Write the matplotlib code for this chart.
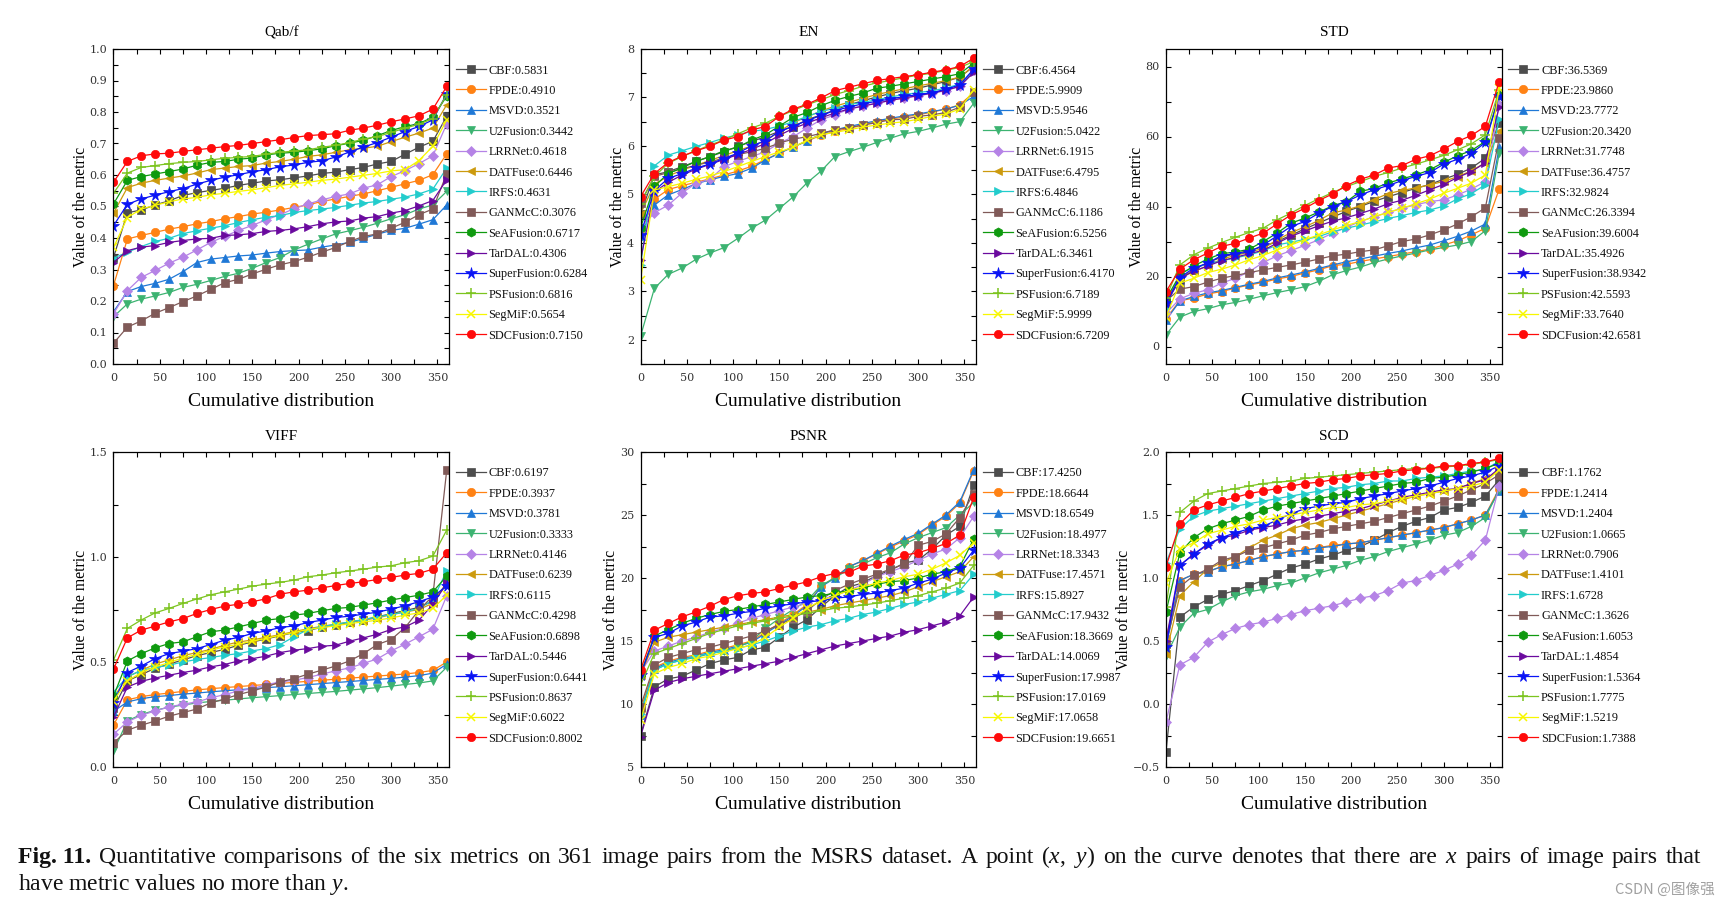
import matplotlib
matplotlib.use('Agg')
import matplotlib.pyplot as plt
from matplotlib.lines import Line2D
from matplotlib.ticker import MultipleLocator, FuncFormatter

plt.rcParams['font.family'] = ['Liberation Serif', 'DejaVu Serif']
plt.rcParams['mathtext.fontset'] = 'custom'
plt.rcParams['mathtext.rm'] = 'Liberation Serif'
plt.rcParams['mathtext.it'] = 'Liberation Serif:italic'
plt.rcParams['mathtext.bf'] = 'Liberation Serif:bold'

# ---------------- data ----------------
METHODS = ['CBF', 'FPDE', 'MSVD', 'U2Fusion', 'LRRNet', 'DATFuse', 'IRFS', 'GANMcC',
           'SeAFusion', 'TarDAL', 'SuperFusion', 'PSFusion', 'SegMiF', 'SDCFusion']
COLORS = ['#4d4d4d', '#ff8214', '#1f78d6', '#3cb371', '#b583e6', '#cc9a0e', '#22cccc', '#805a58',
          '#0f9a0f', '#6a0a9e', '#0a14f5', '#7cc41f', '#f7f700', '#ff0a0a']
MARKERS = ['s', 'o', '^', 'v', 'D', '<', '>', 's', 'h', '>', '*', '+', 'x', 'o']
X = [0, 15, 30, 45, 60, 75, 90, 105, 120, 135, 150, 165, 180, 195, 210, 225, 240, 255,
     270, 285, 300, 315, 330, 345, 360]

qabf_vals = [
    [0.338,0.480,0.489,0.505,0.518,0.535,0.544,0.551,0.558,0.567,0.574,0.581,0.585,0.591,0.597,0.605,0.609,0.617,0.624,0.635,0.643,0.666,0.688,0.707,0.786],
    [0.249,0.397,0.408,0.418,0.428,0.436,0.445,0.452,0.461,0.468,0.476,0.482,0.489,0.497,0.505,0.516,0.524,0.532,0.540,0.550,0.561,0.572,0.583,0.601,0.667],
    [0.166,0.230,0.246,0.256,0.269,0.293,0.322,0.333,0.338,0.343,0.346,0.352,0.357,0.360,0.362,0.371,0.378,0.386,0.399,0.412,0.424,0.431,0.444,0.458,0.505],
    [0.150,0.191,0.206,0.216,0.227,0.243,0.253,0.265,0.278,0.288,0.304,0.322,0.338,0.362,0.380,0.397,0.413,0.423,0.434,0.447,0.461,0.474,0.492,0.505,0.548],
    [0.159,0.233,0.275,0.297,0.320,0.339,0.362,0.386,0.405,0.424,0.440,0.458,0.474,0.493,0.508,0.521,0.532,0.540,0.558,0.569,0.595,0.614,0.636,0.661,0.762],
    [0.479,0.560,0.574,0.583,0.590,0.597,0.606,0.617,0.622,0.627,0.630,0.638,0.643,0.650,0.659,0.664,0.672,0.680,0.685,0.691,0.706,0.720,0.733,0.749,0.823],
    [0.336,0.355,0.373,0.389,0.399,0.414,0.423,0.431,0.439,0.449,0.458,0.466,0.471,0.481,0.487,0.492,0.497,0.504,0.511,0.516,0.523,0.530,0.540,0.555,0.622],
    [0.066,0.117,0.137,0.161,0.179,0.198,0.216,0.237,0.258,0.269,0.286,0.301,0.315,0.325,0.339,0.355,0.370,0.389,0.405,0.413,0.431,0.450,0.474,0.492,0.604],
    [0.508,0.583,0.595,0.603,0.611,0.619,0.631,0.640,0.643,0.650,0.654,0.664,0.669,0.672,0.677,0.683,0.693,0.701,0.710,0.725,0.741,0.754,0.763,0.784,0.850],
    [0.322,0.360,0.371,0.376,0.386,0.392,0.397,0.399,0.408,0.410,0.414,0.421,0.424,0.429,0.436,0.445,0.451,0.454,0.463,0.468,0.479,0.487,0.502,0.519,0.585],
    [0.439,0.507,0.524,0.536,0.547,0.557,0.571,0.583,0.593,0.601,0.610,0.617,0.626,0.632,0.640,0.645,0.657,0.673,0.689,0.703,0.720,0.738,0.754,0.775,0.858],
    [0.542,0.606,0.624,0.630,0.636,0.640,0.643,0.648,0.653,0.656,0.659,0.666,0.672,0.676,0.680,0.688,0.694,0.703,0.714,0.722,0.735,0.749,0.761,0.779,0.855],
    [0.370,0.465,0.492,0.504,0.515,0.524,0.529,0.537,0.542,0.548,0.553,0.560,0.567,0.572,0.577,0.583,0.587,0.593,0.599,0.605,0.613,0.617,0.646,0.691,0.775],
    [0.577,0.643,0.661,0.667,0.669,0.675,0.680,0.685,0.690,0.694,0.700,0.706,0.712,0.719,0.725,0.728,0.731,0.742,0.749,0.758,0.769,0.778,0.788,0.809,0.881],
]
qabf_means = [0.5831, 0.4910, 0.3521, 0.3442, 0.4618, 0.6446, 0.4631, 0.3076, 0.6717, 0.4306, 0.6284, 0.6816, 0.5654, 0.7150]

en_vals = [
    [4.59,5.40,5.47,5.57,5.68,5.78,5.88,5.99,6.09,6.19,6.30,6.40,6.54,6.64,6.74,6.85,6.93,7.01,7.08,7.14,7.19,7.26,7.33,7.42,7.64],
    [4.20,4.90,5.10,5.18,5.25,5.32,5.40,5.48,5.58,5.72,5.85,5.98,6.10,6.22,6.30,6.36,6.43,6.50,6.55,6.60,6.64,6.70,6.76,6.85,7.10],
    [4.15,4.78,4.99,5.10,5.22,5.30,5.37,5.43,5.54,5.71,5.85,5.98,6.10,6.25,6.33,6.40,6.46,6.52,6.57,6.62,6.66,6.71,6.76,6.84,7.02],
    [2.07,3.06,3.35,3.48,3.66,3.79,3.90,4.09,4.30,4.47,4.71,4.95,5.24,5.48,5.78,5.88,5.97,6.07,6.16,6.25,6.30,6.37,6.45,6.50,6.88],
    [4.30,4.62,4.78,5.03,5.23,5.31,5.57,5.68,5.78,5.88,6.06,6.19,6.37,6.54,6.64,6.76,6.83,6.88,6.94,6.99,7.03,7.09,7.14,7.23,7.57],
    [4.60,5.20,5.38,5.50,5.60,5.70,5.80,5.90,6.00,6.10,6.30,6.48,6.60,6.72,6.82,6.90,6.98,7.06,7.12,7.18,7.24,7.29,7.35,7.42,7.65],
    [3.54,5.59,5.81,5.90,5.99,6.07,6.16,6.23,6.30,6.34,6.41,6.50,6.61,6.71,6.78,6.85,6.90,6.95,7.01,7.06,7.10,7.14,7.19,7.28,7.54],
    [4.83,5.37,5.45,5.53,5.60,5.67,5.75,5.82,5.88,5.95,6.06,6.14,6.19,6.26,6.33,6.38,6.43,6.48,6.54,6.55,6.61,6.64,6.69,6.80,7.12],
    [4.31,5.17,5.43,5.55,5.68,5.78,5.90,5.97,6.12,6.23,6.41,6.59,6.69,6.83,6.94,7.02,7.09,7.19,7.23,7.28,7.33,7.38,7.43,7.49,7.71],
    [3.64,5.05,5.25,5.40,5.52,5.62,5.72,5.82,5.93,6.05,6.22,6.36,6.47,6.58,6.68,6.76,6.82,6.88,6.94,6.99,7.04,7.09,7.15,7.23,7.52],
    [4.17,5.08,5.33,5.43,5.54,5.63,5.74,5.85,6.00,6.11,6.30,6.41,6.52,6.63,6.73,6.80,6.87,6.92,6.97,7.02,7.06,7.10,7.17,7.26,7.59],
    [4.81,5.37,5.64,5.78,5.90,6.02,6.12,6.25,6.37,6.47,6.61,6.73,6.85,6.95,7.06,7.14,7.23,7.30,7.35,7.41,7.46,7.50,7.56,7.62,7.74],
    [3.23,5.09,5.16,5.23,5.31,5.38,5.47,5.57,5.68,5.78,5.88,5.97,6.12,6.23,6.28,6.33,6.39,6.43,6.47,6.50,6.55,6.61,6.66,6.76,7.16],
    [4.95,5.43,5.66,5.79,5.90,5.99,6.12,6.19,6.33,6.40,6.61,6.76,6.86,6.99,7.14,7.21,7.28,7.35,7.39,7.43,7.47,7.52,7.57,7.64,7.81],
]
en_means = [6.4564, 5.9909, 5.9546, 5.0422, 6.1915, 6.4795, 6.4846, 6.1186, 6.5256, 6.3461, 6.4170, 6.7189, 5.9999, 6.7209]

std_vals = [
    [12.5,19.0,22.0,24.0,25.5,26.5,27.5,28.5,30.0,31.8,33.6,35.3,37.0,38.6,40.0,41.5,42.8,44.0,45.2,46.3,47.8,49.2,51.0,53.8,64.0],
    [8.0,13.1,13.8,15.0,15.7,16.7,17.6,18.3,19.3,20.0,21.0,21.9,23.1,23.5,24.3,25.0,25.7,26.4,27.1,27.8,29.0,30.2,31.9,33.8,45.0],
    [7.5,13.0,14.3,15.3,16.0,16.9,17.8,18.6,19.6,20.4,21.3,22.3,23.3,24.2,25.0,25.8,26.6,27.3,28.2,29.0,30.2,31.5,33.0,35.0,57.0],
    [3.3,8.4,10.0,10.8,11.9,12.6,13.5,14.5,15.4,16.2,17.1,18.6,20.5,21.7,22.7,24.0,25.0,25.9,26.7,27.6,28.3,29.0,30.0,33.1,55.2],
    [9.5,13.6,15.2,16.2,18.1,19.5,21.4,24.0,25.9,27.4,28.9,30.5,32.4,34.1,35.7,37.1,38.3,39.5,40.5,41.4,41.9,43.3,45.0,47.1,69.0],
    [13.0,20.0,21.5,23.0,25.0,26.0,27.0,28.0,30.5,32.5,34.2,36.0,38.2,39.0,40.2,42.0,43.7,44.6,45.3,46.2,47.2,48.5,50.2,52.5,61.5],
    [11.0,21.0,22.5,23.5,24.5,25.3,26.2,27.3,29.0,29.8,30.6,31.4,32.8,33.8,34.7,35.6,36.6,37.4,38.3,39.0,40.1,42.2,43.7,46.2,65.0],
    [13.0,16.4,17.1,18.4,19.5,20.3,21.1,21.9,22.6,23.3,24.1,25.0,25.9,26.4,27.1,27.6,28.8,30.0,30.7,31.9,33.3,35.0,37.1,39.6,59.5],
    [13.5,20.5,23.0,25.0,26.5,27.0,27.8,30.0,32.4,35.2,36.7,38.4,40.2,41.4,44.3,45.2,46.7,47.9,49.0,50.5,52.6,54.5,56.0,58.6,71.9],
    [12.0,19.5,21.5,23.0,24.5,25.5,26.5,27.5,29.5,31.5,33.0,34.5,35.8,36.8,38.0,39.3,40.8,41.8,43.2,44.8,46.3,48.3,50.0,52.5,68.5],
    [12.5,19.7,22.4,23.8,26.0,26.5,27.0,29.0,31.6,34.3,35.7,38.1,40.0,41.4,43.3,44.8,46.0,47.4,48.6,49.7,52.1,53.5,55.2,58.3,71.6],
    [14.0,23.3,26.2,28.1,29.7,31.2,32.6,33.8,36.2,38.1,40.3,42.2,44.0,45.7,47.1,48.6,49.7,51.0,52.1,53.3,54.6,56.2,57.9,60.5,73.3],
    [8.5,18.1,19.5,21.1,22.1,23.3,24.8,26.0,27.6,29.0,30.5,31.9,33.3,34.6,35.7,37.1,38.3,39.5,40.8,42.1,43.8,45.2,46.7,49.0,73.8],
    [15.7,22.1,24.8,26.7,28.6,29.5,31.0,32.4,35.0,37.6,39.5,41.7,43.6,46.0,47.8,49.0,51.0,51.7,53.5,54.5,56.4,58.6,60.3,62.9,75.7],
]
std_means = [36.5369, 23.9860, 23.7772, 20.3420, 31.7748, 36.4757, 32.9824, 26.3394, 39.6004, 35.4926, 38.9342, 42.5593, 33.7640, 42.6581]

viff_vals = [
    [0.28,0.41,0.44,0.47,0.49,0.51,0.53,0.545,0.56,0.58,0.595,0.61,0.625,0.64,0.65,0.665,0.675,0.69,0.70,0.715,0.73,0.745,0.76,0.79,0.87],
    [0.20,0.32,0.335,0.345,0.352,0.36,0.367,0.373,0.378,0.383,0.388,0.393,0.398,0.403,0.408,0.413,0.418,0.423,0.428,0.433,0.438,0.443,0.45,0.46,0.50],
    [0.265,0.31,0.325,0.335,0.34,0.347,0.352,0.358,0.363,0.368,0.373,0.378,0.382,0.387,0.392,0.397,0.402,0.407,0.412,0.417,0.422,0.428,0.435,0.447,0.49],
    [0.075,0.22,0.25,0.27,0.285,0.295,0.305,0.312,0.318,0.324,0.33,0.335,0.34,0.345,0.35,0.355,0.36,0.366,0.372,0.378,0.385,0.393,0.40,0.41,0.475],
    [0.156,0.215,0.246,0.267,0.286,0.299,0.31,0.329,0.345,0.362,0.373,0.392,0.405,0.413,0.426,0.442,0.458,0.472,0.493,0.515,0.553,0.585,0.62,0.656,0.815],
    [0.33,0.43,0.46,0.49,0.51,0.53,0.545,0.56,0.58,0.595,0.605,0.618,0.63,0.645,0.658,0.67,0.68,0.69,0.70,0.71,0.725,0.738,0.75,0.78,0.88],
    [0.357,0.43,0.46,0.474,0.485,0.50,0.512,0.521,0.532,0.54,0.553,0.564,0.583,0.62,0.655,0.667,0.68,0.691,0.702,0.715,0.726,0.739,0.755,0.795,0.934],
    [0.114,0.175,0.199,0.219,0.242,0.259,0.276,0.305,0.324,0.345,0.362,0.381,0.405,0.421,0.442,0.461,0.481,0.505,0.540,0.583,0.607,0.664,0.747,0.814,1.414],
    [0.337,0.505,0.540,0.567,0.588,0.596,0.620,0.644,0.652,0.667,0.683,0.699,0.707,0.723,0.731,0.744,0.755,0.760,0.771,0.782,0.795,0.807,0.818,0.834,0.909],
    [0.238,0.381,0.408,0.424,0.437,0.45,0.461,0.477,0.488,0.505,0.516,0.528,0.545,0.556,0.564,0.575,0.58,0.599,0.615,0.632,0.655,0.667,0.699,0.775,0.874],
    [0.305,0.450,0.481,0.516,0.540,0.551,0.564,0.583,0.604,0.617,0.636,0.648,0.664,0.672,0.688,0.699,0.712,0.718,0.728,0.737,0.752,0.768,0.787,0.810,0.863],
    [0.51,0.66,0.70,0.734,0.755,0.779,0.80,0.82,0.834,0.847,0.861,0.871,0.879,0.89,0.906,0.914,0.925,0.933,0.942,0.952,0.958,0.973,0.982,1.004,1.128],
    [0.315,0.41,0.45,0.477,0.497,0.52,0.536,0.556,0.572,0.585,0.599,0.612,0.628,0.640,0.655,0.664,0.672,0.683,0.691,0.699,0.710,0.723,0.734,0.755,0.818],
    [0.466,0.615,0.652,0.671,0.691,0.707,0.731,0.750,0.766,0.775,0.787,0.801,0.823,0.834,0.842,0.853,0.864,0.874,0.882,0.893,0.903,0.914,0.922,0.942,1.020],
]
viff_means = [0.6197, 0.3937, 0.3781, 0.3333, 0.4146, 0.6239, 0.6115, 0.4298, 0.6898, 0.5446, 0.6441, 0.8637, 0.6022, 0.8002]

psnr_vals = [
    [7.5,11.36,12.0,12.2,12.7,13.2,13.5,13.7,14.3,14.5,15.3,16.1,16.7,17.7,18.6,19.3,19.6,20.2,20.6,21.2,21.4,22.3,23.4,24.1,27.4],
    [9.5,12.9,13.4,13.7,13.9,14.2,14.4,14.7,15.0,15.7,16.4,17.1,17.9,19.35,20.05,20.9,21.35,21.9,22.45,22.95,23.45,24.2,24.9,25.95,28.5],
    [9.1,12.8,13.3,13.6,13.8,14.1,14.3,14.6,14.9,15.6,16.3,17.0,17.8,19.3,20.0,20.9,21.37,21.95,22.53,23.06,23.54,24.28,25.0,26.05,28.6],
    [9.3,12.7,13.2,13.5,13.7,14.0,14.2,14.5,15.0,16.0,16.8,17.5,18.2,19.4,20.0,20.7,21.1,21.6,22.0,22.7,23.2,23.6,24.0,25.0,26.0],
    [12.5,14.2,14.6,15.0,15.3,15.7,16.0,16.4,16.8,17.1,17.4,17.7,18.0,18.3,18.6,19.0,19.5,20.1,20.5,20.9,21.4,21.9,22.3,23.2,24.9],
    [12.3,14.9,15.3,15.5,15.7,15.9,16.1,16.3,16.5,16.7,16.9,17.1,17.3,17.5,17.8,18.0,18.2,18.4,18.6,18.9,19.3,19.7,20.1,20.5,21.7],
    [9.2,12.7,13.2,13.5,13.8,14.0,14.2,14.4,14.7,15.0,15.4,15.8,16.1,16.3,16.6,16.8,17.1,17.3,17.6,17.9,18.1,18.4,18.7,19.0,20.3],
    [9.8,13.1,13.7,14.0,14.3,14.5,14.8,15.1,15.4,15.8,16.3,16.8,17.4,18.3,19.0,19.5,19.9,20.3,20.7,21.1,22.6,22.9,23.5,24.8,26.7],
    [12.4,15.4,15.9,16.4,16.8,17.1,17.35,17.5,17.7,17.9,18.1,18.3,18.5,18.6,18.8,19.0,19.2,19.5,19.7,19.8,20.0,20.3,20.5,20.9,23.1],
    [7.4,11.1,11.7,12.0,12.2,12.4,12.6,12.8,13.0,13.2,13.4,13.7,14.0,14.3,14.6,14.8,15.0,15.2,15.4,15.7,15.9,16.2,16.5,17.0,18.5],
    [12.3,15.3,15.6,16.2,16.5,16.9,17.0,17.2,17.35,17.6,17.8,17.95,18.1,18.2,18.4,18.5,18.7,18.8,19.0,19.2,19.6,19.9,20.4,20.8,22.2],
    [11.5,14.0,14.4,14.8,15.2,15.6,15.9,16.2,16.4,16.6,16.8,17.0,17.2,17.4,17.6,17.7,17.85,18.0,18.2,18.4,18.6,18.9,19.2,19.6,21.0],
    [8.7,12.4,12.9,13.2,13.6,13.8,14.1,14.4,14.7,15.3,16.1,16.8,17.6,18.2,18.6,19.0,19.3,19.6,19.8,20.1,20.3,20.7,21.2,21.8,22.8],
    [12.68,15.86,16.39,16.92,17.31,17.76,18.29,18.59,18.77,18.90,19.17,19.43,19.70,20.10,20.36,20.44,20.94,21.10,21.37,21.82,22.00,22.35,22.74,23.41,26.40],
]
psnr_means = [17.4250, 18.6644, 18.6549, 18.4977, 18.3343, 17.4571, 15.8927, 17.9432, 18.3669, 14.0069, 17.9987, 17.0169, 17.0658, 19.6651]

scd_vals = [
    [-0.38,0.69,0.77,0.83,0.87,0.90,0.94,0.98,1.03,1.08,1.11,1.15,1.18,1.22,1.25,1.30,1.36,1.41,1.45,1.48,1.54,1.56,1.60,1.65,1.78],
    [0.52,0.98,1.03,1.05,1.09,1.11,1.14,1.17,1.19,1.21,1.22,1.24,1.26,1.27,1.28,1.30,1.32,1.34,1.36,1.38,1.40,1.43,1.46,1.50,1.71],
    [0.45,0.98,1.03,1.05,1.09,1.11,1.14,1.17,1.19,1.21,1.22,1.24,1.25,1.27,1.28,1.30,1.32,1.34,1.36,1.38,1.40,1.43,1.46,1.50,1.69],
    [0.38,0.61,0.72,0.75,0.81,0.86,0.89,0.91,0.94,0.96,1.00,1.04,1.07,1.10,1.14,1.17,1.21,1.24,1.27,1.30,1.34,1.36,1.41,1.48,1.70],
    [-0.14,0.31,0.37,0.49,0.55,0.60,0.63,0.65,0.68,0.71,0.74,0.76,0.78,0.81,0.84,0.86,0.90,0.96,0.98,1.02,1.06,1.11,1.18,1.30,1.73],
    [0.40,0.86,0.97,1.07,1.12,1.17,1.24,1.30,1.34,1.39,1.42,1.44,1.47,1.50,1.53,1.56,1.59,1.62,1.65,1.67,1.69,1.71,1.75,1.79,1.85],
    [1.12,1.39,1.49,1.53,1.55,1.57,1.59,1.61,1.63,1.65,1.67,1.69,1.71,1.72,1.74,1.75,1.77,1.77,1.79,1.80,1.81,1.83,1.85,1.86,1.93],
    [0.48,0.93,1.02,1.07,1.14,1.17,1.22,1.24,1.27,1.30,1.34,1.36,1.39,1.41,1.43,1.45,1.48,1.51,1.54,1.57,1.61,1.65,1.70,1.75,1.82],
    [0.73,1.20,1.32,1.39,1.43,1.46,1.49,1.54,1.57,1.59,1.61,1.63,1.65,1.67,1.69,1.71,1.73,1.75,1.76,1.79,1.80,1.82,1.84,1.87,1.91],
    [0.50,1.10,1.19,1.26,1.32,1.34,1.38,1.40,1.42,1.45,1.47,1.49,1.51,1.53,1.55,1.58,1.61,1.64,1.66,1.68,1.70,1.71,1.75,1.78,1.87],
    [0.45,1.10,1.19,1.27,1.32,1.36,1.39,1.41,1.46,1.51,1.55,1.57,1.59,1.60,1.63,1.65,1.67,1.69,1.71,1.73,1.76,1.79,1.81,1.84,1.89],
    [0.77,1.52,1.61,1.67,1.69,1.71,1.73,1.75,1.76,1.77,1.79,1.80,1.81,1.82,1.83,1.84,1.85,1.86,1.87,1.87,1.88,1.89,1.90,1.92,1.94],
    [0.96,1.23,1.28,1.35,1.38,1.41,1.43,1.46,1.48,1.50,1.52,1.54,1.56,1.56,1.58,1.59,1.61,1.63,1.65,1.67,1.69,1.71,1.73,1.76,1.86],
    [1.09,1.43,1.54,1.58,1.61,1.64,1.67,1.69,1.71,1.73,1.75,1.76,1.78,1.79,1.81,1.82,1.83,1.85,1.86,1.87,1.89,1.89,1.91,1.92,1.95],
]
scd_means = [1.1762, 1.2414, 1.2404, 1.0665, 0.7906, 1.4101, 1.6728, 1.3626, 1.6053, 1.4854, 1.5364, 1.7775, 1.5219, 1.7388]

TITLES = ['Qab/f', 'EN', 'STD', 'VIFF', 'PSNR', 'SCD']
ALL_VALS = [qabf_vals, en_vals, std_vals, viff_vals, psnr_vals, scd_vals]
ALL_MEANS = [qabf_means, en_means, std_means, viff_means, psnr_means, scd_means]
YLIMS = [(0, 1.0), (1.5, 8), (-5, 85), (0, 1.5), (5, 30), (-0.5, 2.0)]
YMAJOR = [0.1, 1, 20, 0.5, 5, 0.5]
YMINOR = [0.05, 0.5, 10, 0.25, 2.5, 0.25]
YDEC = [1, 0, 0, 1, 0, 1]

# ---------------- figure ----------------
FW, FH = 1730, 909
fig = plt.figure(figsize=(FW / 100, FH / 100), dpi=100)
renderer = fig.canvas.get_renderer()

# calibrate legend font so that the longest entry is ~99 px wide, as in the reference
probe = fig.text(0, 0, 'SuperFusion:0.6284', fontsize=10)
pw = probe.get_window_extent(renderer=renderer).width
probe.remove()
LEG_FS = 10 * 99.0 / pw

col_left = [113.5, 640.5, 1166]
row_top = [49, 452]
AW, AH = 336, 315

MSIZE = {'s': 5.2, 'o': 6.0, '^': 5.9, 'v': 5.9, 'D': 4.8, '<': 5.9, '>': 5.9,
         'h': 6.6, '*': 8.5, '+': 7.0, 'x': 6.0}


def mstyle(i):
    m = MARKERS[i]
    return dict(color=COLORS[i], lw=0.9, marker=m, ms=MSIZE[m], mec=COLORS[i], mfc=COLORS[i],
                mew=1.1 if m in '+x' else 0.5)


for k in range(6):
    r, c = divmod(k, 3)
    l = col_left[c]
    t = row_top[r]
    ax = fig.add_axes([l / FW, (FH - t - AH) / FH, AW / FW, AH / FH])
    vals = ALL_VALS[k]
    means = ALL_MEANS[k]
    for i, name in enumerate(METHODS):
        ax.plot(X, vals[i], **mstyle(i))
    ax.set_xlim(0, 363)
    ax.set_ylim(*YLIMS[k])
    ax.xaxis.set_major_locator(MultipleLocator(50))
    ax.xaxis.set_minor_locator(MultipleLocator(25))
    ax.yaxis.set_major_locator(MultipleLocator(YMAJOR[k]))
    ax.yaxis.set_minor_locator(MultipleLocator(YMINOR[k]))
    dec = YDEC[k]
    ax.yaxis.set_major_formatter(FuncFormatter(lambda v, p, d=dec: (f'{v:.{d}f}').replace('-', '\u2212')))
    ax.xaxis.set_major_formatter(FuncFormatter(lambda v, p: f'{v:.0f}'))
    ax.tick_params(which='both', direction='in', top=True, right=True, length=3.5, width=0.8)
    ax.tick_params(which='major', labelsize=8, labelcolor='#333333', labelfontfamily='DejaVu Serif')
    ax.tick_params(axis='y', which='major', pad=4.5)
    ax.tick_params(axis='x', which='major', pad=6.8)
    for sp in ax.spines.values():
        sp.set_linewidth(0.9)
    ax.set_title(TITLES[k], fontsize=11, pad=9.0)
    ax.set_ylabel('Value of the metric', fontsize=11.3, labelpad=0.5)
    ax.set_xlabel('Cumulative distribution', fontsize=14)
    ax.xaxis.set_label_coords(0.5, -0.092)

    # legend drawn entry by entry (pixel layout)
    right = l + AW
    for i, name in enumerate(METHODS):
        yp = FH - (t + 20 + 20.4 * i)
        x0 = right + 6
        x1 = x0 + 30
        st = mstyle(i)
        ln = Line2D([x0 / FW, (x0 + x1) / 2 / FW, x1 / FW], [yp / FH] * 3,
                    transform=fig.transFigure, markevery=[1], **st)
        fig.add_artist(ln)
        fig.text((x1 + 3) / FW, yp / FH, f'{name}:{means[i]:.4f}', fontsize=LEG_FS,
                 va='center_baseline', ha='left', color='#111111')

# ---------------- caption ----------------
CAP_FS = 17
line1 = [('Fig. 11.', 'bold'), ('Quantitative', 'normal'), ('comparisons', 'normal'), ('of', 'normal'),
         ('the', 'normal'), ('six', 'normal'), ('metrics', 'normal'), ('on', 'normal'), ('361', 'normal'),
         ('image', 'normal'), ('pairs', 'normal'), ('from', 'normal'), ('the', 'normal'), ('MSRS', 'normal'),
         ('dataset.', 'normal'), ('A', 'normal'), ('point', 'normal'), ('($x$,', 'normal'), ('$y$)', 'normal'),
         ('on', 'normal'), ('the', 'normal'), ('curve', 'normal'), ('denotes', 'normal'), ('that', 'normal'),
         ('there', 'normal'), ('are', 'normal'), ('$x$', 'normal'), ('pairs', 'normal'), ('of', 'normal'),
         ('image', 'normal'), ('pairs', 'normal'), ('that', 'normal')]
y1 = 1 - 863 / FH
texts, widths = [], []
for w, wt in line1:
    tx = fig.text(0, y1, w, fontsize=CAP_FS, fontweight=wt, va='baseline', ha='left', color='#111111')
    texts.append(tx)
    widths.append(tx.get_window_extent(renderer=renderer).width)
x0, x1 = 18, 1701
gap = (x1 - x0 - sum(widths)) / (len(texts) - 1)
xx = x0
for tx, w in zip(texts, widths):
    tx.set_x(xx / FW)
    xx += w + gap
fig.text(x0 / FW, 1 - 890 / FH, 'have metric values no more than $y$.', fontsize=CAP_FS,
         va='baseline', ha='left', color='#111111')

fig.text(1715 / FW, 1 - 890 / FH, 'CSDN @图像强', family=['Noto Sans CJK SC', 'DejaVu Sans'],
         fontsize=10.5, color='#a0a0a0', ha='right', va='center')

fig.savefig('out.png', dpi=100)
